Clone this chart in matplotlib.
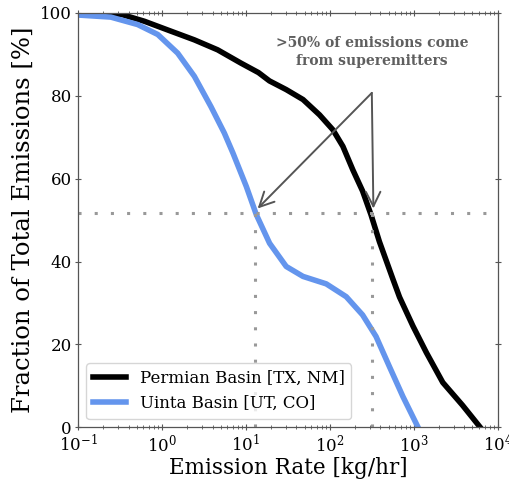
import matplotlib as mpl
mpl.use("Agg")
import matplotlib.pyplot as plt
import numpy as np

plt.rcParams['font.family'] = 'DejaVu Serif'
plt.rcParams['mathtext.fontset'] = 'dejavuserif'

# curves (log10 of emission rate, % of total)
permian_logx = [-1.0, -0.49, -0.21, 0.107, 0.386, 0.663, 0.94, 1.15, 1.28, 1.48, 1.68,
                1.877, 2.036, 2.155, 2.274, 2.39, 2.49, 2.59, 2.75, 2.83, 2.99, 3.15,
                3.345, 3.58, 3.79]
permian_y = [99.8, 99.7, 98.0, 95.6, 93.5, 91.1, 87.9, 85.6, 83.6, 81.5, 79.1,
             75.4, 71.8, 67.8, 62.1, 57.0, 51.3, 44.8, 35.8, 31.4, 24.4, 18.0,
             10.8, 5.3, 0.0]

uinta_logx = [-1.0, -0.61, -0.29, -0.05, 0.187, 0.386, 0.583, 0.743, 0.845, 1.005,
              1.124, 1.282, 1.48, 1.68, 1.957, 2.195, 2.39, 2.55, 2.71, 2.87, 3.05]
uinta_y = [99.5, 99.0, 97.2, 94.8, 90.3, 84.7, 77.4, 71.0, 66.2, 58.1,
           51.3, 44.4, 38.8, 36.4, 34.6, 31.5, 27.1, 21.9, 14.6, 7.4, 0.0]

half_level = 51.8
cross_x = [13.0, 316.0]
arrow_tail = (316.0, 80.7)
arrow_heads = [(13.8, 52.8), (330.0, 52.8)]

fig = plt.figure(figsize=(5.1, 4.8), dpi=100)
ax = fig.add_axes([0.153, 0.110, 0.823, 0.863])

ax.plot(10**np.array(permian_logx), permian_y, color='black', lw=4,
        label='Permian Basin [TX, NM]', solid_joinstyle='round')
ax.plot(10**np.array(uinta_logx), uinta_y, color='cornflowerblue', lw=4,
        label='Uinta Basin [UT, CO]', solid_joinstyle='round')

dots = (0, (1, 4.3))
ax.axhline(half_level, color='#999999', ls=dots, lw=2.2)
for cx in cross_x:
    ax.plot([cx, cx], [0, half_level], color='#999999', ls=dots, lw=2.2)

for hx, hy in arrow_heads:
    ax.annotate('', xy=(hx, hy), xytext=arrow_tail,
                arrowprops=dict(arrowstyle='->', color='#555555', lw=1.4,
                                mutation_scale=26, shrinkA=0, shrinkB=0))
ax.text(316.0, 90.5, '>50% of emissions come\nfrom superemitters',
        ha='center', va='center', color='#5f5f5f', fontsize=10,
        fontweight='bold', linespacing=1.35)

ax.set_xscale('log')
ax.set_xlim(0.1, 1e4)
ax.set_ylim(0, 100)
ax.set_yticks([0, 20, 40, 60, 80, 100])
for sp in ax.spines.values():
    sp.set_color('#555555')
    sp.set_linewidth(0.9)
ax.tick_params(which='both', direction='inout', top=True, right=True,
               color='#555555', labelsize=12, pad=2)
ax.tick_params(which='major', length=5)
ax.tick_params(which='minor', length=3)
ax.set_xlabel('Emission Rate [kg/hr]', fontsize=15.5, labelpad=1)
ax.set_ylabel('Fraction of Total Emissions [%]', fontsize=17.5, labelpad=4)
ax.legend(loc='lower left', fontsize=12, handlelength=2.0)

plt.savefig('out.png', dpi=100)
